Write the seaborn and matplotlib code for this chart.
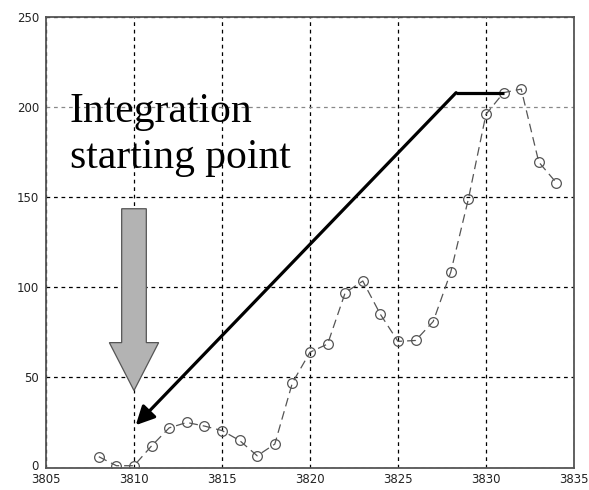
import numpy as np
import pandas as pd
import matplotlib
matplotlib.use('Agg')
import matplotlib.pyplot as plt
import matplotlib.transforms as mtransforms
import seaborn as sns

# values
x_vals = [3808, 3809, 3810, 3811, 3812, 3813, 3814, 3815, 3816, 3817, 3818,
          3819, 3820, 3821, 3822, 3823, 3824, 3825, 3826, 3827, 3828,
          3829, 3830, 3831, 3832, 3833, 3834]
y_vals = [6, 1, 1, 12, 22, 25, 23, 20.5, 15, 6.5, 13,
          47, 64, 68.5, 97, 103.5, 85, 70, 70.5, 81, 108.5,
          149, 196, 208, 210, 169.5, 158]
x_ticks = [3805, 3810, 3815, 3820, 3825, 3830, 3835]
y_ticks = [0, 50, 100, 150, 200, 250]

df = pd.DataFrame({'x': x_vals, 'y': y_vals})

sns.set_style('white')
plt.rcParams['font.family'] = ['DejaVu Sans']
plt.rcParams['text.color'] = 'black'

fig = plt.figure(figsize=(5.89, 4.90), dpi=100)
ax = fig.add_axes([0.0781, 0.0459, 0.8964, 0.9194])

sns.lineplot(data=df, x='x', y='y', ax=ax, color='#555555', linewidth=0.9,
             marker='o', markersize=7, markerfacecolor='none',
             markeredgecolor='#555555', markeredgewidth=0.9)
ax.lines[0].set_dashes([7, 4])

ax.set_xlim(3805, 3835)
ax.set_ylim(0, 250)
ax.set_xticks(x_ticks)
ax.set_yticks(y_ticks)
ax.set_xlabel('')
ax.set_ylabel('')
ax.tick_params(length=0, labelsize=8.5, colors='#222222')
ax.tick_params(axis='x', pad=4)
ax.tick_params(axis='y', pad=5)

# nudge the "0" label up a little so it clears "3805"
fig.canvas.draw()
lab0 = ax.get_yticklabels()[0]
lab0.set_transform(lab0.get_transform() +
                   mtransforms.ScaledTranslation(0, 3 / 100, fig.dpi_scale_trans))

ax.grid(True, color='black', linestyle=(0, (3, 3)), linewidth=0.9)
ax.get_ygridlines()[4].set_color('#888888')
for s in ax.spines.values():
    s.set_color('#555555')
    s.set_linewidth(1.3)

# black polyline arrow pointing at the integration start
ax.plot([3831.0, 3828.3], [208, 208], color='black', linewidth=2.3,
        solid_capstyle='butt')
ax.annotate('', xy=(3810.1, 23.5), xytext=(3828.3, 208),
            arrowprops=dict(arrowstyle='-|>', color='black', lw=2.3,
                            mutation_scale=28, shrinkA=0, shrinkB=0))

# gray block arrow
ax.arrow(3810, 143.6, 0, -100.9, width=1.4, head_width=2.8, head_length=26.6,
         length_includes_head=True, fc='#b3b3b3', ec='#555555', lw=0.9,
         zorder=3)

ax.text(3806.35, 191.9, 'Integration', family='Liberation Serif',
        fontsize=30, va='baseline', ha='left', color='black')
ax.text(3806.35, 166.2, 'starting point', family='Liberation Serif',
        fontsize=30, va='baseline', ha='left', color='black')

fig.savefig('out.png', dpi=100)
